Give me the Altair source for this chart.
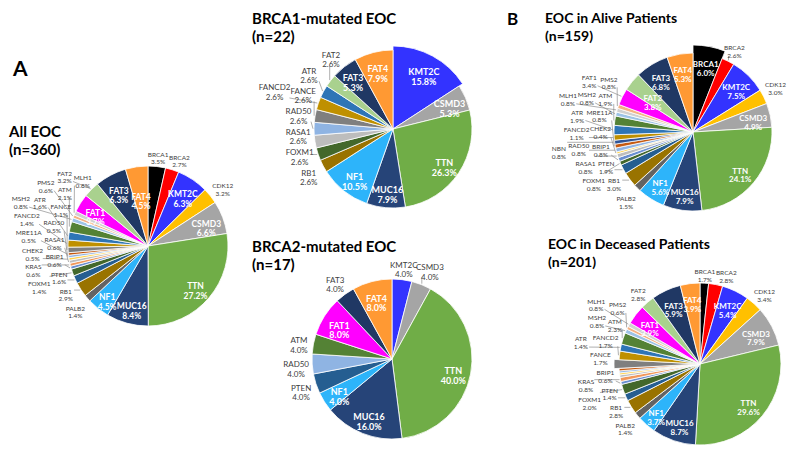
import math
import pandas as pd
import altair as alt

# ---------------- data (clockwise from 12 o'clock) ----------------
ALL_GENES = ["BRCA1", "BRCA2", "KMT2C", "CDK12", "CSMD3", "TTN", "MUC16", "NF1", "PALB2", "RB1",
             "PTEN", "FOXM1", "BRIP1", "KRAS", "RASA1", "CHEK2", "RAD50", "MRE11A", "FANCE", "FANCD2",
             "ATR", "ATM", "MSH2", "PMS2", "MLH1", "FAT1", "FAT2", "FAT3", "FAT4"]
ALL_PCT = [3.5, 2.7, 6.3, 3.2, 6.6, 27.2, 8.4, 4.5, 1.4, 2.9,
           1.6, 1.4, 0.6, 0.6, 0.6, 0.5, 0.5, 0.5, 1.1, 1.4,
           1.6, 2.1, 0.8, 0.6, 0.8, 3.7, 3.2, 6.3, 4.5]
ALL_INSIDE = ["KMT2C", "CSMD3", "TTN", "MUC16", "NF1", "FAT1", "FAT3", "FAT4"]

B1_GENES = ["KMT2C", "CSMD3", "TTN", "MUC16", "NF1", "RB1", "FOXM1", "RASA1", "RAD50", "FANCE",
            "FANCD2", "ATR", "FAT2", "FAT3", "FAT4"]
B1_PCT = [15.8, 5.3, 26.3, 7.9, 10.5, 2.6, 2.6, 2.6, 2.6, 2.6, 2.6, 2.6, 2.6, 5.3, 7.9]
B1_INSIDE = ["KMT2C", "CSMD3", "TTN", "MUC16", "NF1", "FAT3", "FAT4"]

B2_GENES = ["KMT2C", "CSMD3", "TTN", "MUC16", "NF1", "PTEN", "RAD50", "ATM", "FAT1", "FAT3", "FAT4"]
B2_PCT = [4.0, 4.0, 40.0, 16.0, 4.0, 4.0, 4.0, 4.0, 8.0, 4.0, 8.0]
B2_INSIDE = ["TTN", "MUC16", "NF1", "FAT1", "FAT4"]

AL_GENES = ["BRCA1", "BRCA2", "KMT2C", "CDK12", "CSMD3", "TTN", "MUC16", "NF1", "PALB2", "RB1",
            "PTEN", "FOXM1", "BRIP1", "RASA1", "CHEK2", "RAD50", "MRE11A", "NBN", "FANCD2", "ATR",
            "ATM", "MSH2", "MLH1", "PMS2", "FAT1", "FAT2", "FAT3", "FAT4"]
AL_PCT = [6.0, 2.6, 7.5, 3.0, 4.9, 24.1, 7.9, 5.6, 1.5, 3.0,
          1.9, 0.8, 0.8, 0.8, 0.4, 0.8, 0.8, 0.8, 1.1, 1.9,
          1.9, 0.8, 0.8, 0.8, 3.4, 3.8, 6.8, 5.3]
AL_INSIDE = ["BRCA1", "KMT2C", "CSMD3", "TTN", "MUC16", "NF1", "FAT2", "FAT3", "FAT4"]

DE_GENES = ["BRCA1", "BRCA2", "KMT2C", "CDK12", "CSMD3", "TTN", "MUC16", "NF1", "PALB2", "RB1",
            "PTEN", "FOXM1", "BRIP1", "KRAS", "RASA1", "CHEK2", "RAD50", "MRE11A", "FANCE", "FANCD2",
            "ATR", "ATM", "MSH2", "PMS2", "MLH1", "FAT1", "FAT2", "FAT3", "FAT4"]
DE_PCT = [1.7, 2.8, 5.4, 3.4, 7.9, 29.6, 8.7, 3.7, 1.4, 2.8,
          1.4, 2.0, 0.6, 0.8, 0.5, 0.4, 0.4, 0.5, 1.7, 1.7,
          1.4, 2.3, 0.8, 0.6, 0.8, 3.9, 2.8, 5.9, 3.9]
DE_INSIDE = ["KMT2C", "CSMD3", "TTN", "MUC16", "NF1", "FAT1", "FAT3", "FAT4"]
DE_HIDDEN = ["RASA1", "CHEK2", "RAD50", "MRE11A"]

TITLE_TEXT = ["A", "All EOC", "(n=360)", "BRCA1-mutated EOC", "(n=22)", "BRCA2-mutated EOC", "(n=17)",
              "B", "EOC in Alive Patients", "(n=159)", "EOC in Deceased Patients", "(n=201)"]

# ---------------- styling / layout (page pixel coordinates) ----------------
PAD = 8
ORG = 16  # page position of the plot origin (8px body margin + 8px padding)
W, H = 795 - 8 - ORG, 453 - 8 - ORG
FONT = "Lato"
PALETTE = {
    "BRCA1": "#000000", "BRCA2": "#FF0000", "KMT2C": "#3333FF", "CDK12": "#FFC000",
    "CSMD3": "#A5A5A5", "TTN": "#70AD47", "MUC16": "#264478", "NF1": "#2DB4FA",
    "PALB2": "#636363", "RB1": "#997300", "PTEN": "#255E91", "FOXM1": "#43682B",
    "BRIP1": "#698ED0", "KRAS": "#F1975A", "RASA1": "#BDBDBD", "CHEK2": "#FFD34D",
    "RAD50": "#8FB4E3", "MRE11A": "#C55A11", "NBN": "#2F5597", "FANCE": "#7F7F7F",
    "FANCD2": "#BF9000", "ATR": "#2E75B6", "ATM": "#548235", "MSH2": "#9DC3E6",
    "PMS2": "#F4B183", "MLH1": "#D0D0D0", "FAT1": "#FF00FF", "FAT2": "#A9D18E",
    "FAT3": "#203864", "FAT4": "#FF9933",
}
PAL_DOM = list(PALETTE.keys())
PAL_RNG = list(PALETTE.values())

PIES = [
    dict(genes=ALL_GENES, pct=ALL_PCT, inside=ALL_INSIDE, hidden=[], explode={},
         cx=148, cy=246, R=80, fs_out=6.5, fs_in=8.5),
    dict(genes=B1_GENES, pct=B1_PCT, inside=B1_INSIDE, hidden=[], explode={"KMT2C": 4},
         cx=393, cy=129, R=79, fs_out=8, fs_in=9),
    dict(genes=B2_GENES, pct=B2_PCT, inside=B2_INSIDE, hidden=[], explode={},
         cx=392, cy=359, R=80, fs_out=8, fs_in=9),
    dict(genes=AL_GENES, pct=AL_PCT, inside=AL_INSIDE, hidden=[], explode={"BRCA1": 8},
         cx=693, cy=132, R=79, fs_out=6.5, fs_in=8),
    dict(genes=DE_GENES, pct=DE_PCT, inside=DE_INSIDE, hidden=DE_HIDDEN, explode={"FANCE": 5},
         cx=700, cy=364, R=81, fs_out=6.5, fs_in=8),
]
# (x, baseline y, font size) for each title text, page coordinates
TITLE_POS = [(13, 76, 21), (9, 137, 15), (9, 155, 15), (252, 24, 15), (252, 42, 15), (252, 252, 15),
             (252, 270, 15), (507, 25, 17), (545, 23, 14), (545, 41, 14), (548, 249, 14), (548, 267, 14)]


def pct_text(g, v):
    return f"{g}\n{v:.1f}%"


def cx_(x):
    return x - ORG


def overlaps(a, b, pad=0.8):
    return not (a[2] + pad <= b[0] or b[2] + pad <= a[0] or a[3] + pad <= b[1] or b[3] + pad <= a[1])


def hits_circle(b, c):
    cx, cy, r = c
    nx = min(max(cx, b[0]), b[2])
    ny = min(max(cy, b[1]), b[3])
    return (nx - cx) ** 2 + (ny - cy) ** 2 < r * r


def text_box(x, y, txt, fs, lh):
    w = max(len(s) for s in txt.split("\n")) * fs * 0.6 + 1
    h = 2 * lh
    return (x - w / 2, y - h / 2, x + w / 2, y + h / 2)


def mids(p):
    total = sum(p["pct"])
    out, cum = [], 0.0
    for v in p["pct"]:
        out.append((cum + v / 2) / total * 2 * math.pi)
        cum += v
    return out


circles = [(p["cx"], p["cy"], p["R"] + 2) for p in PIES]
placed = []
for t, (tx, ty, fs) in zip(TITLE_TEXT, TITLE_POS):
    placed.append((tx, ty - 0.78 * fs, tx + 0.53 * fs * len(t), ty + 0.25 * fs))

# ---- inside label radius: keep the white text inside its pie and apart from its neighbours ----
for p in PIES:
    p["rlab"] = {}
    boxes = []
    items = [(g, v, m) for g, v, m in zip(p["genes"], p["pct"], mids(p)) if g in p["inside"]]
    items.sort(key=lambda t: -t[1])  # biggest slices first
    for g, v, mid in items:
        Rg = p["R"] + p["explode"].get(g, 0)
        choice = None
        for rf in [0.78, 0.82, 0.74, 0.86, 0.70, 0.90, 0.66, 0.94, 0.62]:
            r = Rg * rf
            b = text_box(p["cx"] + r * math.sin(mid), p["cy"] - r * math.cos(mid),
                         pct_text(g, v), p["fs_in"], p["fs_in"] * 1.1)
            corners = [(b[0], b[1]), (b[2], b[1]), (b[0], b[3]), (b[2], b[3])]
            if any(math.hypot(x - p["cx"], y - p["cy"]) > Rg + 1 for x, y in corners):
                continue
            if any(overlaps(b, o, 0.3) for o in boxes):
                continue
            choice = (r, b)
            break
        if choice is None:
            r = Rg * 0.78
            b = text_box(p["cx"] + r * math.sin(mid), p["cy"] - r * math.cos(mid),
                         pct_text(g, v), p["fs_in"], p["fs_in"] * 1.1)
            choice = (r, b)
        p["rlab"][g] = choice[0]
        boxes.append(choice[1])
    placed += boxes

# ---- outside labels (positions derived from the slice angles) ----
label_rows = []
line_rows = []
for p in PIES:
    fs = p["fs_out"]
    lh = fs * 1.2
    for g, v, mid in zip(p["genes"], p["pct"], mids(p)):
        if g in p["inside"] or g in p["hidden"]:
            continue
        txt = pct_text(g, v)
        b0 = text_box(0, 0, txt, fs, lh)
        w, h = b0[2] - b0[0], b0[3] - b0[1]
        Rg = p["R"] + p["explode"].get(g, 0)
        cands = sorted((dr + 2.0 * abs(dth), dth, dr) for dth in range(-30, 31, 1) for dr in range(0, 110, 2))
        chosen = None
        for _, dth, dr in cands:
            th = mid + math.radians(dth)
            s, c = math.sin(th), math.cos(th)
            r = Rg + 3 + abs(s) * w / 2 + abs(c) * h / 2 + dr
            x = p["cx"] + r * s
            y = p["cy"] - r * c
            b = (x - w / 2, y - h / 2, x + w / 2, y + h / 2)
            if b[0] < 9 or b[2] > 786 or b[1] < 9 or b[3] > 444:
                continue
            if any(hits_circle(b, cc) for cc in circles):
                continue
            if any(overlaps(b, o) for o in placed):
                continue
            chosen = (x, y, b)
            break
        if chosen is None:
            continue
        x, y, b = chosen
        placed.append(b)
        label_rows.append(dict(x=cx_(x), y=cx_(y), text=txt, fs=fs))
        ex = p["cx"] + (Rg + 1) * math.sin(mid)
        ey = p["cy"] - (Rg + 1) * math.cos(mid)
        nx = min(max(ex, b[0]), b[2])
        ny = min(max(ey, b[1]), b[3])
        if math.hypot(nx - ex, ny - ey) > 4:
            line_rows.append(dict(x=cx_(ex), y=cx_(ey), x2=cx_(nx), y2=cx_(ny)))

# ---------------- chart ----------------
layers = []
for p in PIES:
    df = pd.DataFrame({"gene": p["genes"], "pct": p["pct"]})
    df["idx"] = range(len(df))
    df["intext"] = [pct_text(g, v) if g in p["inside"] else "" for g, v in zip(p["genes"], p["pct"])]
    df["rout"] = [p["R"] + p["explode"].get(g, 0) for g in p["genes"]]
    df["rlab"] = [p["rlab"].get(g, p["R"] * 0.78) for g in p["genes"]]
    base = (
        alt.Chart(df)
        .transform_window(cum="sum(pct)", sort=[alt.SortField("idx", order="ascending")], frame=[None, 0])
        .transform_joinaggregate(total="sum(pct)")
        .transform_calculate(
            t0="2*PI*(datum.cum - datum.pct)/datum.total",
            t1="2*PI*datum.cum/datum.total",
            tm="2*PI*(datum.cum - datum.pct/2)/datum.total",
        )
        .encode(x=alt.value(cx_(p["cx"])), y=alt.value(cx_(p["cy"])))
    )
    arcs = base.mark_arc(stroke="white", strokeWidth=0.8).encode(
        theta=alt.Theta("t0:Q", scale=None, stack=False),
        theta2="t1:Q",
        radius=alt.Radius("rout:Q", scale=None),
        color=alt.Color("gene:N", scale=alt.Scale(domain=PAL_DOM, range=PAL_RNG), legend=None),
    )
    intext = base.mark_text(
        font=FONT, fontSize=p["fs_in"], fontWeight="bold", color="white",
        lineBreak="\n", lineHeight=p["fs_in"] * 1.1, align="center", baseline="middle",
    ).encode(
        theta=alt.Theta("tm:Q", scale=None, stack=False),
        radius=alt.Radius("rlab:Q", scale=None),
        text="intext:N",
    )
    layers += [arcs, intext]

lines_df = pd.DataFrame(line_rows)
layers.append(
    alt.Chart(lines_df).mark_rule(color="#8C8C8C", strokeWidth=0.7).encode(
        x=alt.X("x:Q", scale=None), y=alt.Y("y:Q", scale=None),
        x2="x2:Q", y2="y2:Q",
    )
)
lab_df = pd.DataFrame(label_rows)
for fs in sorted(set(lab_df["fs"])):
    sub = lab_df[lab_df["fs"] == fs]
    layers.append(
        alt.Chart(sub).mark_text(
            font=FONT, fontSize=fs, color="#404040", lineBreak="\n", lineHeight=fs * 1.2,
            align="center", baseline="middle",
        ).encode(x=alt.X("x:Q", scale=None), y=alt.Y("y:Q", scale=None), text="text:N")
    )

for t, (tx, ty, fs) in zip(TITLE_TEXT, TITLE_POS):
    layers.append(
        alt.Chart(pd.DataFrame({"t": [t]})).mark_text(
            font=FONT, fontSize=fs, fontWeight="bold", color="#000000", align="left", baseline="alphabetic",
        ).encode(x=alt.value(cx_(tx)), y=alt.value(cx_(ty)), text="t:N")
    )

chart = (
    alt.layer(*layers)
    .properties(width=W, height=H, padding={"left": PAD, "top": PAD, "right": 0, "bottom": 0},
                autosize=alt.AutoSizeParams(type="none"))
    .configure_view(stroke=None)
)
chart.save("out.html", embed_options={"renderer": "svg", "actions": False})
